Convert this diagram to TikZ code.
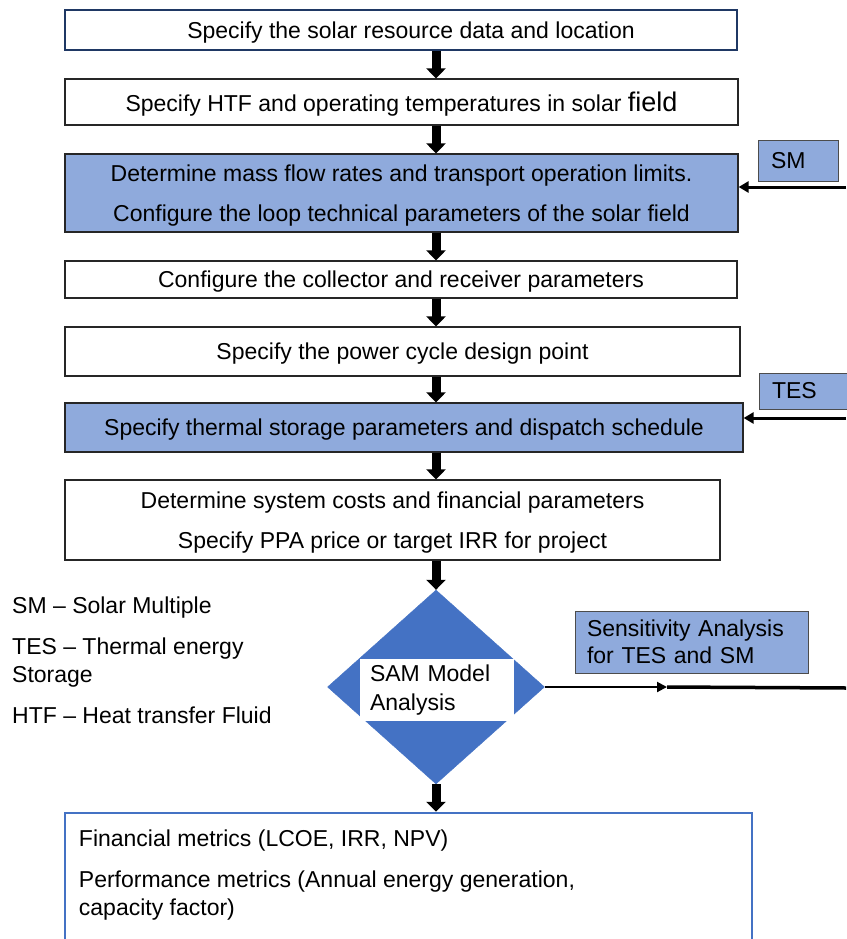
\documentclass[tikz,border=0pt]{standalone}
\usepackage{fontspec}
\setmainfont{Liberation Sans}
\usetikzlibrary{positioning, shapes.geometric, arrows.meta, calc}

\definecolor{fieldblue}{HTML}{8FAADC}
\definecolor{modelblue}{HTML}{4472C4}
\definecolor{edgenavy}{HTML}{1F3864}

\begin{document}
\begin{tikzpicture}[x=1pt, y=-1pt,
    stepbox/.style={draw=black!85, line width=1.2pt, fill=white, inner sep=0pt, align=center, text depth=0pt, font=\fontsize{23}{27}\selectfont},
    shadedbox/.style={stepbox, fill=fieldblue},
    tagbox/.style={draw=black!70, line width=1pt, fill=fieldblue, inner xsep=13pt, inner ysep=0pt, align=left, font=\fontsize{23}{27}\selectfont},
    flowarrow/.style={-{Triangle[length=10pt,width=19pt]}, line width=9pt},
    feedarrow/.style={-{Triangle[length=10pt,width=11pt]}, line width=3pt},
    plainnote/.style={align=left, inner sep=0pt, font=\fontsize{23}{28}\selectfont}]
    \useasboundingbox (0,0) rectangle (846,939);

    % Column of the down arrows
    \coordinate (spine) at (436,0);

    % Steps
    \node[stepbox, draw=edgenavy, minimum width=672, minimum height=40] (resource) at (401,30) {\hspace*{20pt}Specify the solar resource data and location};
    \node[stepbox, minimum width=673, minimum height=46] (htf) at (401.5,102) {Specify HTF and operating temperatures in solar {\fontsize{27}{27}\selectfont field}};
    \node[shadedbox, minimum width=673, minimum height=78] (massflow) at (401.5,193) {Determine mass flow rates and transport operation limits.\\[13pt]Configure the loop technical parameters of the solar field};
    \node[stepbox, minimum width=672, minimum height=37] (collector) at (401,279.5) {Configure the collector and receiver parameters};
    \node[stepbox, minimum width=675, minimum height=49] (powercycle) at (402.5,351.5) {Specify the power cycle design point};
    \node[shadedbox, minimum width=678, minimum height=49] (storage) at (404,427.5) {Specify thermal storage parameters and dispatch schedule};
    \node[stepbox, minimum width=655, minimum height=80] (costs) at (392.5,520) {Determine system costs and financial parameters\\[13pt]Specify PPA price or target IRR for project};

    % Decision
    \node[diamond, fill=modelblue, draw=modelblue, inner sep=0pt, minimum width=217, minimum height=194] (sam) at (436,687) {};
    \node[fill=white, inner xsep=10pt, inner ysep=0pt, text width=134pt, minimum height=62, align=left, font=\fontsize{23}{29}\selectfont] (samlabel) at (437,690) {SAM Model\\Analysis};

    % Inputs on the right
    \node[tagbox, text width=54pt, minimum height=41] (sm) at (798,160.5) {SM};
    \node[tagbox, text width=67pt, minimum height=36] (tes) at (805.5,391) {TES};
    \node[tagbox, inner xsep=12pt, text width=209pt, minimum height=62] (sensitivity) at (691.5,642) {Sensitivity Analysis\\for TES and SM};

    \coordinate (smin) at (846,187);
    \coordinate (tesin) at (846,418);
    \coordinate (sensmid) at (667,687);
    \coordinate (sensout) at (846,688);

    % Results
    \node[draw=modelblue, line width=2.5pt, minimum width=687, minimum height=147, inner sep=0pt] (results) at (408.5,886.5) {};
    \node[plainnote, anchor=north west] (metrics) at ($(results.north west)+(15,18)$) {Financial metrics (LCOE, IRR, NPV)\\[13pt]Performance metrics (Annual energy generation,\\capacity factor)};

    % Legend
    \node[plainnote, anchor=north west] (legend) at (12,597) {SM -- Solar Multiple\\[13pt]TES -- Thermal energy\\Storage\\[13pt]HTF -- Heat transfer Fluid};

    % Down arrows
    \draw[flowarrow] (resource.south -| spine) -- (htf.north -| spine);
    \draw[flowarrow] (htf.south -| spine) -- (massflow.north -| spine);
    \draw[flowarrow] (massflow.south -| spine) -- (collector.north -| spine);
    \draw[flowarrow] (collector.south -| spine) -- (powercycle.north -| spine);
    \draw[flowarrow] (powercycle.south -| spine) -- (storage.north -| spine);
    \draw[flowarrow] (storage.south -| spine) -- (costs.north -| spine);
    \draw[flowarrow] (costs.south -| spine) -- (sam.north);
    \draw[flowarrow] (sam.south) -- (results.north -| spine);

    % Feedback
    \draw[feedarrow] (smin) -- (smin -| massflow.east);
    \draw[feedarrow] (tesin) -- (tesin -| storage.east);
    \draw[-{Triangle[length=10pt,width=10pt]}, line width=2pt] (sam.east) -- (sensmid);
    \draw[line width=3.5pt] (sensmid) -- (sensout);
\end{tikzpicture}
\end{document}
